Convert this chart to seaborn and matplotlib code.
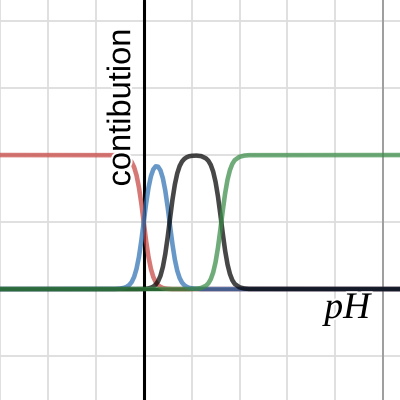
import pandas as pd
import seaborn as sns
import matplotlib.pyplot as plt
import matplotlib.patheffects as pe

# pH position (graph units) and the fraction of each species
ph = [-3.2, -0.6, -0.5, -0.4, -0.35, -0.3, -0.25, -0.2, -0.15, -0.1, -0.05,
      0.0, 0.05, 0.1, 0.15, 0.2, 0.25, 0.3, 0.35, 0.4, 0.45, 0.5, 0.55,
      0.6, 0.65, 0.7, 0.75, 0.8, 0.85, 0.9, 0.95, 1.0, 1.1, 1.2, 1.3,
      1.35, 1.4, 1.45, 1.5, 1.55, 1.6, 1.65, 1.7, 1.75, 1.8, 1.85, 1.9,
      2.0, 2.1, 2.2, 5.5]

red = [1, 0.999, 0.997, 0.990, 0.982, 0.969, 0.947, 0.909, 0.849, 0.759, 0.640,
       0.500, 0.359, 0.239, 0.150, 0.090, 0.052, 0.029, 0.016, 0.008, 0.004, 0.002, 0.001,
       0, 0, 0, 0, 0, 0, 0, 0, 0, 0, 0, 0,
       0, 0, 0, 0, 0, 0, 0, 0, 0, 0, 0, 0,
       0, 0, 0, 0]

blue = [0, 0.001, 0.003, 0.010, 0.018, 0.031, 0.053, 0.091, 0.151, 0.240, 0.360,
        0.499, 0.638, 0.756, 0.841, 0.893, 0.916, 0.913, 0.885, 0.827, 0.735, 0.612, 0.471,
        0.334, 0.220, 0.137, 0.082, 0.048, 0.028, 0.016, 0.009, 0.005, 0.002, 0, 0,
        0, 0, 0, 0, 0, 0, 0, 0, 0, 0, 0, 0,
        0, 0, 0, 0]

black = [0, 0, 0, 0, 0, 0, 0, 0, 0, 0.0002, 0.0004,
         0.001, 0.002, 0.005, 0.010, 0.018, 0.033, 0.058, 0.099, 0.165, 0.261, 0.386, 0.528,
         0.666, 0.780, 0.863, 0.918, 0.952, 0.972, 0.984, 0.991, 0.994, 0.996, 0.992, 0.975,
         0.957, 0.926, 0.876, 0.799, 0.691, 0.557, 0.415, 0.285, 0.183, 0.112, 0.066, 0.038,
         0.013, 0.004, 0.001, 0]

green = [0, 0, 0, 0, 0, 0, 0, 0, 0, 0, 0,
         0, 0, 0, 0, 0, 0, 0, 0, 0, 0, 0, 0,
         0, 0, 0, 0, 0, 0, 0, 0, 0.001, 0.002, 0.008, 0.025,
         0.043, 0.074, 0.124, 0.201, 0.309, 0.443, 0.585, 0.715, 0.817, 0.888, 0.934, 0.962,
         0.987, 0.996, 0.999, 1]

species = ['red', 'blue', 'black', 'green']
colors = ['#c74440', '#2d70b3', '#000000', '#388c46']

rows = []
for name, vals in zip(species, [red, blue, black, green]):
    for x, y in zip(ph, vals):
        rows.append({'pH': x, 'fraction': y, 'species': name})
df = pd.DataFrame(rows)

sns.set_style("white")
plt.rcParams['font.family'] = ['Liberation Sans', 'DejaVu Sans']

fig = plt.figure(figsize=(4, 4), dpi=100)
ax = fig.add_axes([0, 0, 1, 1])

# grid like the graphing calculator
for gx in range(-3, 6):
    ax.axvline(gx, color='#dddddd', lw=1.3, zorder=0)
for gy in [-0.5, 0, 0.5, 1, 1.5, 2]:
    ax.axhline(gy, color='#dddddd', lw=1.3, zorder=0)
ax.axvline(5, color='#999999', lw=1.3, zorder=0.5)
ax.axhline(0, color='black', lw=2.2, zorder=1)
ax.axvline(0, color='black', lw=2.2, zorder=1)

sns.lineplot(data=df, x='pH', y='fraction', hue='species', hue_order=species,
             palette=colors, estimator=None, sort=False, lw=3.3, alpha=0.72,
             legend=False, ax=ax, zorder=2)

ax.text(-0.46, 1.354, 'contibution', rotation=90, fontsize=23.5,
        ha='center', va='center', color='black', zorder=3,
        path_effects=[pe.withStroke(linewidth=3, foreground='white')])
ax.text(4.25, -0.216, 'pH', fontsize=27, family=['Liberation Serif'],
        style='italic', ha='center', va='baseline', color='black', zorder=3,
        path_effects=[pe.withStroke(linewidth=3, foreground='white')])

ax.set_xlim(-3.0, 5.35)
ax.set_ylim(-0.828, 2.157)
ax.set_xticks([])
ax.set_yticks([])
ax.set_xlabel('')
ax.set_ylabel('')
for s in ax.spines.values():
    s.set_visible(False)

fig.savefig('out.png', dpi=100)
